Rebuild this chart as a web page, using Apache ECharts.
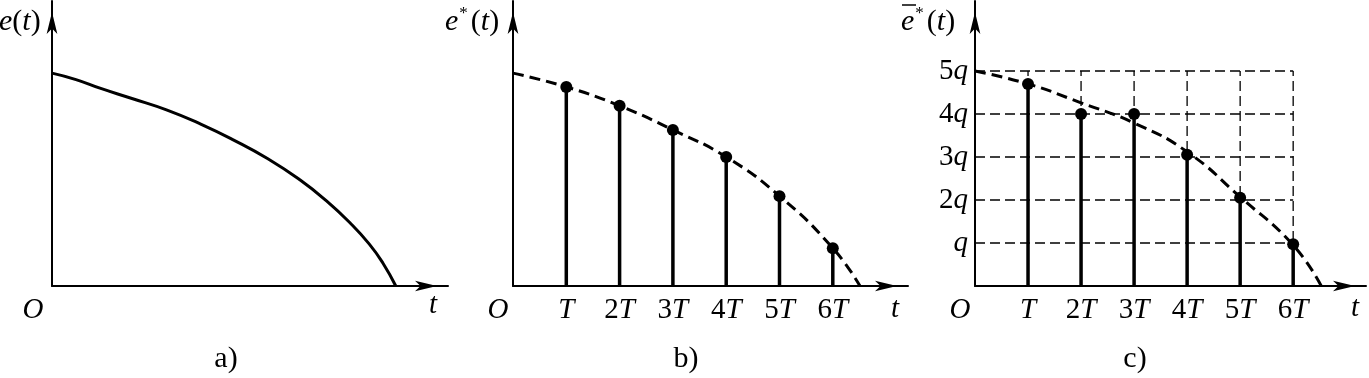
<!DOCTYPE html>
<html>
<head>
<meta charset="utf-8">
<script src="https://cdn.jsdelivr.net/npm/echarts@6/dist/echarts.min.js"></script>
<style>
  html, body { margin: 0; background: #fff; }
  #main { width: 1369px; height: 378px; }
</style>
</head>
<body>
<div id="main"></div>
<script type="text/javascript">
    // 采样时刻与刻度文字
    var sampleT = [1, 2, 3, 4, 5, 6];
    var tickLabelsT = ['T', '2T', '3T', '4T', '5T', '6T'];
    // 量化电平
    var levelsQ = [1, 2, 3, 4, 5];
    var tickLabelsQ = ['q', '2q', '3q', '4q', '5q'];

    // a) 连续信号 e(t)
    var curveA = [[0, 4.95], [0.45, 4.8], [0.9, 4.6], [1.5, 4.36], [2.16, 4.09], [2.8, 3.76], [3.4, 3.4],
        [4.05, 2.96], [4.65, 2.47], [5.15, 1.98], [5.59, 1.47], [5.95, 0.98], [6.21, 0.53], [6.45, 0]];
    // b) 采样信号 e*(t)
    var curveB = [[0, 4.95], [1, 4.63], [2, 4.19], [3, 3.63], [4, 3.0], [5, 2.09], [6, 0.88], [6.51, 0]];
    var samplesB = [4.63, 4.19, 3.63, 3.0, 2.09, 0.88];
    // c) 量化后的采样信号
    var curveC = [[0, 5.0], [1, 4.7], [2, 4.26], [3, 3.79], [4, 3.12], [5, 2.07], [6, 0.95], [6.53, 0]];
    var samplesC = [4.7, 4, 4, 3.05, 2.05, 0.97];

    var FONT = '"Liberation Serif", "Times New Roman", serif';
    var pxT = 53.3, pxQ = 43; // 每个 T / q 的像素
    var grids = [
        {left: 52, top: 1, width: 396, height: 285},
        {left: 513, top: 1, width: 395, height: 285},
        {left: 975, top: 1, width: 393, height: 285}
    ];

    var rich = {
        n: {fontFamily: FONT, fontSize: 29, color: '#000'},
        i: {fontFamily: FONT, fontSize: 29, fontStyle: 'italic', color: '#000'}
    };
    // '2T' -> 数字正体, 字母斜体
    function toRich(s) {
        var m = s.match(/^(\d*)(\w)$/);
        return (m[1] ? '{n|' + m[1] + '}' : '') + '{i|' + m[2] + '}';
    }

    var arrowLine = {
        lineStyle: {color: '#000', width: 2},
        symbol: ['none', 'arrow'],
        symbolSize: [8, 22],
        symbolOffset: [0, -11]
    };

    var xAxes = grids.map(function (g, k) {
        return {
            gridIndex: k, type: 'value', min: 0, max: g.width / pxT, interval: 1,
            axisLine: arrowLine, axisTick: {show: false}, splitLine: {show: false},
            axisLabel: {
                show: k > 0, margin: 10, rich: rich,
                formatter: function (v) {
                    var j = sampleT.indexOf(v);
                    return j < 0 ? '' : toRich(tickLabelsT[j]);
                }
            }
        };
    });
    var yAxes = grids.map(function (g, k) {
        return {
            gridIndex: k, type: 'value', min: 0, max: g.height / pxQ, interval: 1,
            axisLine: arrowLine, axisTick: {show: false}, splitLine: {show: false},
            axisLabel: {
                show: k === 2, margin: 7, rich: rich,
                formatter: function (v) {
                    var j = levelsQ.indexOf(v);
                    return j < 0 ? '' : toRich(tickLabelsQ[j]);
                }
            }
        };
    });

    function renderStem(params, api) {
        var p0 = api.coord([api.value(0), 0]);
        var p1 = api.coord([api.value(0), api.value(1)]);
        return {type: 'line', shape: {x1: p0[0], y1: p0[1], x2: p1[0], y2: p1[1]},
            style: {stroke: '#000', lineWidth: 3.5}};
    }
    function renderGridLine(params, api) {
        var p0 = api.coord([api.value(0), api.value(1)]);
        var p1 = api.coord([api.value(2), api.value(3)]);
        return {type: 'line', shape: {x1: p0[0], y1: p0[1], x2: p1[0], y2: p1[1]},
            style: {stroke: '#000', lineWidth: 1.3, lineDash: [10, 5]}};
    }

    // c) 中的虚线网格
    var gridLinesC = [];
    levelsQ.forEach(function (q) { gridLinesC.push([0, q, sampleT[sampleT.length - 1], q]); });
    sampleT.forEach(function (t) { gridLinesC.push([t, 0, t, levelsQ[levelsQ.length - 1]]); });

    function pairs(vals) {
        return sampleT.map(function (t, j) { return [t, vals[j]]; });
    }

    function label(x, y, text, opt) {
        opt = opt || {};
        return {
            type: 'text', x: x, y: y, z: 100,
            style: {
                text: text,
                font: (opt.italic ? 'italic ' : '') + (opt.size || 29) + 'px ' + FONT,
                fill: '#000',
                align: 'center', verticalAlign: 'middle',
                textAlign: 'center', textVerticalAlign: 'middle'
            }
        };
    }

    var titleRich = {
        n: {fontFamily: FONT, fontSize: 30, color: '#000'},
        i: {fontFamily: FONT, fontSize: 30, fontStyle: 'italic', color: '#000'},
        s: {fontFamily: FONT, fontSize: 17, color: '#000', padding: [0, 3, 16, 1]}
    };
    function title(x, text) {
        return {
            type: 'text', x: x, y: 22, z: 100,
            style: {text: text, rich: titleRich, fill: '#000',
                align: 'left', verticalAlign: 'middle', textAlign: 'left', textVerticalAlign: 'middle'}
        };
    }

    var myChart = echarts.init(document.getElementById('main'));
    var option = {
        animation: false,
        grid: grids,
        xAxis: xAxes,
        yAxis: yAxes,
        series: [
            {type: 'line', xAxisIndex: 0, yAxisIndex: 0, data: curveA, smooth: true,
                symbol: 'none', lineStyle: {color: '#000', width: 3}},

            {type: 'line', xAxisIndex: 1, yAxisIndex: 1, data: curveB, smooth: true,
                symbol: 'none', lineStyle: {color: '#000', width: 3, type: [11, 6]}},
            {type: 'custom', xAxisIndex: 1, yAxisIndex: 1, data: pairs(samplesB), renderItem: renderStem},
            {type: 'scatter', xAxisIndex: 1, yAxisIndex: 1, data: pairs(samplesB), symbolSize: 12,
                itemStyle: {color: '#000', opacity: 1}},

            {type: 'custom', xAxisIndex: 2, yAxisIndex: 2, data: gridLinesC, renderItem: renderGridLine, z: 1},
            {type: 'line', xAxisIndex: 2, yAxisIndex: 2, data: curveC, smooth: true,
                symbol: 'none', lineStyle: {color: '#000', width: 3, type: [11, 6]}},
            {type: 'custom', xAxisIndex: 2, yAxisIndex: 2, data: pairs(samplesC), renderItem: renderStem},
            {type: 'scatter', xAxisIndex: 2, yAxisIndex: 2, data: pairs(samplesC), symbolSize: 12,
                itemStyle: {color: '#000', opacity: 1}}
        ],
        graphic: [
            title(-1, '{i|e}{n|(}{i|t}{n|)}'),
            title(445, '{i|e}{s|*}{n|(}{i|t}{n|)}'),
            title(901, '{i|e}{s|*}{n|(}{i|t}{n|)}'),
            {type: 'line', z: 100, shape: {x1: 902, y1: 5, x2: 916, y2: 5}, style: {stroke: '#000', lineWidth: 1.5}},
            label(33, 310, 'O', {italic: true}),
            label(498, 310, 'O', {italic: true}),
            label(960, 310, 'O', {italic: true}),
            label(433, 305, 't', {italic: true}),
            label(895, 309, 't', {italic: true}),
            label(1355, 308, 't', {italic: true}),
            label(226, 359, 'a)', {size: 30}),
            label(686, 359, 'b)', {size: 30}),
            label(1135, 359, 'c)', {size: 30})
        ]
    };
    myChart.setOption(option);
</script>
</body>
</html>
